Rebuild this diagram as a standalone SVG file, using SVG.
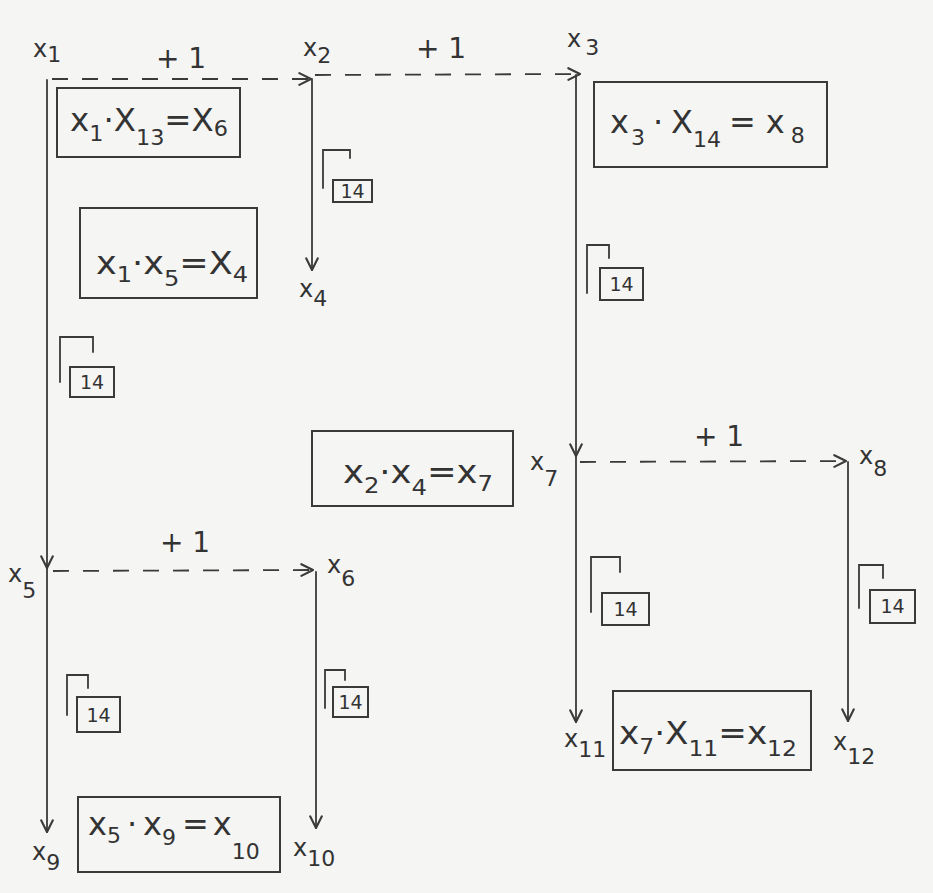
<svg xmlns="http://www.w3.org/2000/svg" width="933" height="893" viewBox="0 0 933 893">
<defs>
<marker id="arr" viewBox="0 0 12 12" refX="11" refY="6" markerWidth="14" markerHeight="14" markerUnits="userSpaceOnUse" orient="auto">
<path d="M1,1 L11,6 L1,11" fill="none" stroke="#3a3a3a" stroke-width="1.8" stroke-linecap="round" stroke-linejoin="round"/>
</marker>
<style>
.bg{fill:#f5f5f3}
.ln{stroke:#3a3a3a;stroke-width:1.8;fill:none;stroke-linecap:round}
.dash{stroke:#3a3a3a;stroke-width:1.8;fill:none;stroke-dasharray:16 14}
.box{fill:none;stroke:#3a3a3a;stroke-width:2}
.eq{font-family:"DejaVu Sans",sans-serif;font-size:32px;fill:#333333}
.lbl{font-family:"DejaVu Sans",sans-serif;font-size:24px;fill:#333333}
.sub{font-size:22px}
.plus{font-family:"DejaVu Sans",sans-serif;font-size:28px;fill:#333333}
.rt{font-family:"DejaVu Sans",sans-serif;font-size:19px;fill:#333333}
.rtb{fill:none;stroke:#3a3a3a;stroke-width:2}
</style>
</defs>
<rect class="bg" x="0" y="0" width="933" height="893"/>

<g id="connectors">
<line class="ln" x1="47" y1="80" x2="47" y2="568" marker-end="url(#arr)"/>
<line class="ln" x1="47" y1="568" x2="47" y2="832" marker-end="url(#arr)"/>
<line class="dash" x1="52" y1="79" x2="311" y2="79" marker-end="url(#arr)"/>
<line class="ln" x1="312" y1="79" x2="312" y2="270" marker-end="url(#arr)"/>
<line class="dash" x1="315" y1="75" x2="580" y2="74" marker-end="url(#arr)"/>
<line class="ln" x1="576" y1="75" x2="576" y2="456" marker-end="url(#arr)"/>
<line class="ln" x1="576" y1="456" x2="576" y2="722" marker-end="url(#arr)"/>
<line class="dash" x1="580" y1="462" x2="846" y2="461" marker-end="url(#arr)"/>
<line class="ln" x1="848" y1="462" x2="848" y2="721" marker-end="url(#arr)"/>
<line class="dash" x1="53" y1="571" x2="313" y2="570" marker-end="url(#arr)"/>
<line class="ln" x1="316" y1="572" x2="316" y2="828" marker-end="url(#arr)"/>
</g>

<g id="edge-labels">
<text class="plus" x="156" y="68">+ 1</text>
<text class="plus" x="416" y="58">+ 1</text>
<text class="plus" x="160" y="552">+ 1</text>
<text class="plus" x="694" y="446">+ 1</text>
</g>

<g id="roots">
<g id="r1"><path class="ln" d="M323,188 V150 H350 V158"/><rect class="rtb" x="333" y="180" width="39" height="22"/><text class="rt" x="352.5" y="198" text-anchor="middle">14</text></g>
<g id="r2"><path class="ln" d="M60,382 V337 H93 V352"/><rect class="rtb" x="70" y="367" width="44" height="30"/><text class="rt" x="92" y="389" text-anchor="middle">14</text></g>
<g id="r3"><path class="ln" d="M587,293 V245 H609 V258"/><rect class="rtb" x="600" y="268" width="43" height="32"/><text class="rt" x="621.5" y="291" text-anchor="middle">14</text></g>
<g id="r4"><path class="ln" d="M591,612 V557 H620 V572"/><rect class="rtb" x="602" y="593" width="47" height="32"/><text class="rt" x="625.5" y="616" text-anchor="middle">14</text></g>
<g id="r5"><path class="ln" d="M859,608 V565 H883 V578"/><rect class="rtb" x="870" y="590" width="45" height="33"/><text class="rt" x="892.5" y="613" text-anchor="middle">14</text></g>
<g id="r6"><path class="ln" d="M67,715 V675 H88 V688"/><rect class="rtb" x="77" y="697" width="43" height="35"/><text class="rt" x="98.5" y="722" text-anchor="middle">14</text></g>
<g id="r7"><path class="ln" d="M325,708 V670 H345 V680"/><rect class="rtb" x="333" y="687" width="35" height="30"/><text class="rt" x="350.5" y="709" text-anchor="middle">14</text></g>
</g>

<g id="n-x1"><text class="lbl" x="33" y="57">x<tspan class="sub" dy="5">1</tspan></text></g>
<g id="n-x2"><text class="lbl" x="303" y="56">x<tspan class="sub" dy="7">2</tspan></text></g>
<g id="n-x3"><text class="lbl" x="567" y="47">x<tspan class="sub" dx="4" dy="8">3</tspan></text></g>
<g id="n-x4"><text class="lbl" x="299" y="297">x<tspan class="sub" dy="9">4</tspan></text></g>
<g id="n-x5"><text class="lbl" x="8" y="582">x<tspan class="sub" dy="16">5</tspan></text></g>
<g id="n-x6"><text class="lbl" x="327" y="573">x<tspan class="sub" dy="13">6</tspan></text></g>
<g id="n-x7"><text class="lbl" x="530" y="470">x<tspan class="sub" dy="16">7</tspan></text></g>
<g id="n-x8"><text class="lbl" x="859" y="464">x<tspan class="sub" dy="12">8</tspan></text></g>
<g id="n-x9"><text class="lbl" x="32" y="860">x<tspan class="sub" dy="10">9</tspan></text></g>
<g id="n-x10"><text class="lbl" x="293" y="856">x<tspan class="sub" dy="10">10</tspan></text></g>
<g id="n-x11"><text class="lbl" x="564" y="747">x<tspan class="sub" dy="10">11</tspan></text></g>
<g id="n-x12"><text class="lbl" x="833" y="750">x<tspan class="sub" dy="14">12</tspan></text></g>

<g id="eq1"><rect class="box" x="57" y="88" width="183" height="69"/>
<text class="eq" x="70" y="131" textLength="158" lengthAdjust="spacingAndGlyphs">x<tspan class="sub" dy="10">1</tspan><tspan dy="-10">·</tspan><tspan>X</tspan><tspan class="sub" dy="14">13</tspan><tspan dy="-14">=</tspan><tspan>X</tspan><tspan class="sub" dy="5">6</tspan></text></g>

<g id="eq2"><rect class="box" x="80" y="208" width="177" height="90"/>
<text class="eq" x="96" y="274" textLength="152" lengthAdjust="spacingAndGlyphs">x<tspan class="sub" dy="8">1</tspan><tspan dy="-8">·</tspan><tspan>x</tspan><tspan class="sub" dy="12">5</tspan><tspan dy="-12">=</tspan><tspan>X</tspan><tspan class="sub" dy="8">4</tspan></text></g>

<g id="eq3"><rect class="box" x="594" y="82" width="233" height="85"/>
<text class="eq" x="610" y="133">x<tspan class="sub" dx="2" dy="12">3</tspan><tspan dx="8" dy="-12">·</tspan><tspan dx="8">X</tspan><tspan class="sub" dy="14">14</tspan><tspan dx="8" dy="-14">=</tspan><tspan dx="10">x</tspan><tspan class="sub" dx="6" dy="10">8</tspan></text></g>

<g id="eq4"><rect class="box" x="312" y="431" width="201" height="75"/>
<text class="eq" x="343" y="483" textLength="150" lengthAdjust="spacingAndGlyphs">x<tspan class="sub" dy="10">2</tspan><tspan dy="-10">·</tspan><tspan>x</tspan><tspan class="sub" dy="12">4</tspan><tspan dy="-12">=</tspan><tspan>x</tspan><tspan class="sub" dy="8">7</tspan></text></g>

<g id="eq5"><rect class="box" x="613" y="691" width="198" height="79"/>
<text class="eq" x="619" y="744" textLength="178" lengthAdjust="spacingAndGlyphs">x<tspan class="sub" dy="10">7</tspan><tspan dy="-10">·</tspan><tspan>X</tspan><tspan class="sub" dy="12">11</tspan><tspan dy="-12">=</tspan><tspan>x</tspan><tspan class="sub" dy="12">12</tspan></text></g>

<g id="eq6"><rect class="box" x="78" y="797" width="202" height="75"/>
<text class="eq" x="88" y="835">x<tspan class="sub" dy="8">5</tspan><tspan dx="6" dy="-8">·</tspan><tspan dx="6">x</tspan><tspan class="sub" dy="10">9</tspan><tspan dx="6" dy="-10">=</tspan><tspan dx="4">x</tspan><tspan class="sub" dy="24">10</tspan></text></g>
</svg>
